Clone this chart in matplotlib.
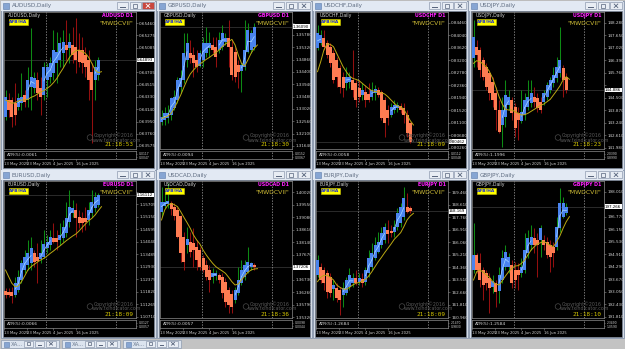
import matplotlib
matplotlib.use("Agg")
import matplotlib.pyplot as plt
from matplotlib.patches import Rectangle, Circle
from matplotlib.transforms import blended_transform_factory
import numpy as np

plt.rcParams['font.family'] = ['Liberation Sans Narrow', 'DejaVu Sans']

# ---------------- data (Heiken-Ashi bodies / wicks, yellow MA) ----------------
symbols = ["AUDUSD", "GBPUSD", "USDCHF", "USDJPY", "EURUSD", "USDCAD", "EURJPY", "GBPJPY"]
date_labels = ["13 May 2025", "23 May 2025", "4 Jun 2025", "16 Jun 2025"]
clock_texts = ["21:18:53", "21:18:30", "21:18:09", "21:18:23", "21:18:09", "21:18:36", "21:18:09", "21:18:10"]
atr_texts = ["ATR(5):0.0061", "ATR(5):0.0094", "ATR(5):0.0058", "ATR(5):1.1996",
             "ATR(5):0.0066", "ATR(5):0.0057", "ATR(5):1.2684", "ATR(5):1.2584"]
atr_hi = [0.0117, 0.0152, 0.0112, 2.0390, 0.0127, 0.0098, 2.1470, 2.3490]
atr_lo = [0.0047, 0.0067, 0.0048, 0.8990, 0.0057, 0.0044, 0.9830, 1.0590]

aud_o = [0.64025,0.64280,0.64280,0.64229,0.64178,0.64229,0.64357,0.64280,0.64485,0.64459,0.64587,0.64459,0.64357,0.64587,0.64638,0.64689,0.64842,0.64893,0.64995,0.65123,0.65072,0.65123,0.65098,0.65046,0.65046,0.64970,0.64893,0.64714,0.64587,0.64663]
aud_c = [0.64331,0.64127,0.64025,0.64050,0.64306,0.64331,0.64255,0.64587,0.64638,0.64612,0.64382,0.64331,0.64791,0.64791,0.64842,0.65046,0.65021,0.65149,0.65174,0.65046,0.65174,0.64970,0.64893,0.64868,0.64842,0.64791,0.64587,0.64434,0.64791,0.64893]
aud_h = [0.64434,0.64382,0.64331,0.64536,0.64382,0.64689,0.64434,0.64791,0.65379,0.64714,0.64714,0.64638,0.64868,0.64842,0.64944,0.65353,0.65328,0.65251,0.65353,0.65506,0.65302,0.65404,0.65532,0.65302,0.65251,0.65098,0.65046,0.64842,0.64893,0.64944]
aud_l = [0.63973,0.64025,0.63871,0.63897,0.64127,0.64127,0.64178,0.64178,0.64127,0.64382,0.64280,0.64050,0.64280,0.64331,0.64536,0.64587,0.64536,0.64791,0.64791,0.64893,0.64842,0.64842,0.64689,0.64791,0.64689,0.64638,0.64280,0.63616,0.64280,0.64587]
aud_ma = [0.64280,0.64255,0.64229,0.64240,0.64265,0.64280,0.64280,0.64290,0.64321,0.64341,0.64372,0.64403,0.64423,0.64459,0.64495,0.64546,0.64607,0.64689,0.64765,0.64852,0.64934,0.64995,0.65036,0.65046,0.65021,0.64995,0.64934,0.64842,0.64740,0.64699,0.64714]
aud_ticks = [0.65460,0.65275,0.65085,0.64895,0.64705,0.64515,0.64330,0.64140,0.63950,0.63760,0.63575]

gbp_o = [1.3255,1.3261,1.3267,1.3280,1.3304,1.3336,1.3385,1.3410,1.3485,1.3510,1.3503,1.3485,1.3463,1.3485,1.3510,1.3528,1.3541,1.3535,1.3522,1.3535,1.3553,1.3565,1.3535,1.3516,1.3466,1.3444,1.3460,1.3513,1.3522,1.3534]
gbp_c = [1.3273,1.3286,1.3286,1.3342,1.3348,1.3410,1.3416,1.3510,1.3547,1.3491,1.3472,1.3460,1.3510,1.3547,1.3547,1.3547,1.3522,1.3497,1.3559,1.3584,1.3565,1.3535,1.3429,1.3423,1.3441,1.3466,1.3522,1.3597,1.3584,1.3609]
gbp_h = [1.3298,1.3311,1.3317,1.3348,1.3373,1.3423,1.3447,1.3584,1.3584,1.3559,1.3534,1.3522,1.3522,1.3572,1.3609,1.3590,1.3572,1.3572,1.3590,1.3615,1.3584,1.3634,1.3559,1.3535,1.3485,1.3472,1.3634,1.3621,1.3597,1.3621]
gbp_l = [1.3242,1.3242,1.3249,1.3261,1.3298,1.3323,1.3360,1.3398,1.3460,1.3472,1.3423,1.3441,1.3460,1.3460,1.3497,1.3497,1.3510,1.3460,1.3510,1.3522,1.3541,1.3460,1.3410,1.3404,1.3379,1.3367,1.3447,1.3510,1.3510,1.3522]
gbp_ma = [1.32672,1.32709,1.32759,1.32858,1.33045,1.33293,1.33542,1.33828,1.34101,1.34325,1.34474,1.34599,1.34698,1.34785,1.34872,1.34947,1.35034,1.35121,1.35220,1.35345,1.35444,1.35531,1.35618,1.35407,1.35034,1.34723,1.34624,1.34847,1.35096,1.35282,1.35407]
gbp_ticks = [1.36240,1.35780,1.35320,1.34860,1.34400,1.33940,1.33480,1.33020,1.32560,1.32100,1.31640]

chf_o = [0.83598,0.83766,0.83934,0.83766,0.83654,0.83430,0.83206,0.82926,0.82646,0.82422,0.82478,0.82534,0.82422,0.82254,0.82030,0.82142,0.82064,0.81974,0.82086,0.82198,0.82142,0.81862,0.81526,0.81358,0.81526,0.81582,0.81660,0.81582,0.81358,0.81078]
chf_c = [0.84102,0.84046,0.83654,0.83374,0.83094,0.82534,0.82646,0.82310,0.82254,0.82646,0.82624,0.82198,0.81862,0.81974,0.82198,0.81862,0.81862,0.82198,0.82220,0.82030,0.81246,0.81078,0.81246,0.81638,0.81694,0.81694,0.81526,0.81358,0.80742,0.80462]
chf_h = [0.84382,0.84214,0.84214,0.83878,0.83766,0.83542,0.83318,0.83038,0.82814,0.82982,0.82814,0.83540,0.82534,0.82534,0.82422,0.82366,0.82422,0.82478,0.82366,0.82310,0.82198,0.81974,0.81694,0.81750,0.81862,0.81806,0.81750,0.81750,0.81526,0.81134]
chf_l = [0.83542,0.83710,0.83542,0.83262,0.82982,0.82422,0.82310,0.82086,0.81974,0.82198,0.82254,0.81974,0.81638,0.81806,0.81862,0.81638,0.81806,0.81862,0.81862,0.81974,0.81190,0.80630,0.81022,0.81302,0.81414,0.81470,0.81414,0.81078,0.80630,0.80406]
chf_ma = [0.82814,0.83150,0.83542,0.83744,0.83732,0.83654,0.83430,0.83206,0.82982,0.82814,0.82668,0.82590,0.82556,0.82512,0.82422,0.82332,0.82243,0.82176,0.82153,0.82131,0.82108,0.82064,0.81974,0.81862,0.81750,0.81660,0.81638,0.81546,0.81358,0.81168,0.81022]
chf_ticks = [0.84460,0.84040,0.83620,0.83200,0.82780,0.82360,0.81940,0.81520,0.81100,0.80680,0.80260]

jpy_o = [146.482,147.070,146.902,146.398,146.062,145.726,145.306,144.718,143.878,143.122,143.542,144.130,144.382,144.046,143.710,143.341,143.626,144.046,144.214,144.550,144.466,144.298,144.298,144.550,144.886,145.222,145.474,145.726,145.978,145.558]
jpy_c = [147.574,146.650,145.894,145.558,145.054,144.718,144.382,143.878,142.786,143.878,144.634,144.550,143.710,142.954,143.374,143.794,144.382,144.550,144.718,144.298,143.962,143.878,144.718,145.138,145.390,145.642,146.062,146.398,145.390,144.886]
jpy_h = [148.414,147.406,147.070,146.566,146.230,145.894,145.558,145.054,144.382,144.550,145.390,144.886,144.550,144.214,144.046,144.886,144.718,145.390,145.390,145.054,144.718,144.550,144.886,145.306,145.558,146.062,146.566,148.078,146.146,145.726]
jpy_l = [146.062,146.062,145.558,145.390,144.886,144.382,144.046,142.870,142.702,142.030,143.038,143.878,143.374,142.534,142.366,143.206,143.374,143.878,144.046,144.046,143.794,143.710,144.130,144.382,144.718,145.054,145.306,145.558,144.550,144.718]
jpy_ma = [146.230,146.365,146.314,146.197,146.062,145.810,145.474,145.020,144.550,144.181,143.912,143.878,143.878,143.794,143.710,143.626,143.643,143.710,143.811,143.912,144.012,144.113,144.181,144.298,144.416,144.634,144.852,145.088,145.390,145.558,145.424]
jpy_ticks = [148.280,147.650,147.020,146.390,145.760,145.130,144.500,143.870,143.240,142.610,141.980]

eur_o = [1.11864,1.11820,1.11820,1.11672,1.11894,1.12338,1.12782,1.13002,1.13108,1.13522,1.13374,1.13256,1.13374,1.13744,1.13892,1.14188,1.14188,1.14114,1.14188,1.14410,1.14928,1.15298,1.15446,1.15150,1.15076,1.15076,1.15002,1.15298,1.15520,1.15668]
eur_c = [1.11672,1.11672,1.11628,1.12190,1.12482,1.13078,1.13346,1.13522,1.13744,1.13152,1.13196,1.13522,1.13936,1.14040,1.14262,1.14040,1.14040,1.14336,1.14706,1.15076,1.15594,1.15520,1.15076,1.14854,1.14854,1.14928,1.15446,1.15816,1.16038,1.16112]
eur_h = [1.11968,1.11968,1.12042,1.12482,1.12782,1.13226,1.13670,1.14114,1.14262,1.13670,1.13966,1.14114,1.14558,1.14336,1.14558,1.14854,1.14558,1.14854,1.15002,1.15816,1.16334,1.15890,1.15742,1.15446,1.15372,1.15594,1.15816,1.16334,1.16260,1.16186]
eur_l = [1.11524,1.11598,1.11302,1.11598,1.11820,1.12190,1.12634,1.12782,1.12782,1.12930,1.12190,1.13078,1.13300,1.13522,1.13670,1.13966,1.13670,1.13892,1.14040,1.14262,1.14706,1.15150,1.14262,1.14632,1.14484,1.14558,1.14780,1.15150,1.15372,1.15564]
eur_ma = [1.12782,1.12482,1.12190,1.12042,1.12072,1.12264,1.12516,1.12782,1.12930,1.13034,1.13137,1.13226,1.13300,1.13404,1.13522,1.13626,1.13744,1.13848,1.13966,1.14084,1.14188,1.14292,1.14381,1.14514,1.14676,1.14824,1.14972,1.15076,1.15224,1.15416,1.15594]
eur_ticks = [1.16260,1.15705,1.15150,1.14595,1.14040,1.13485,1.12930,1.12375,1.11820,1.11265,1.10710]

cad_o = [1.39299,1.39512,1.39588,1.39638,1.39487,1.39362,1.39120,1.38359,1.38046,1.38171,1.38109,1.37983,1.37858,1.37545,1.37294,1.37106,1.36855,1.36880,1.36918,1.36855,1.36667,1.36354,1.36204,1.35978,1.36229,1.36605,1.36855,1.37043,1.37231,1.37294]
cad_c = [1.39675,1.39675,1.39688,1.39387,1.39120,1.38359,1.37733,1.37419,1.38259,1.37795,1.37858,1.37482,1.37231,1.37106,1.36855,1.36730,1.36981,1.36981,1.36730,1.36229,1.35916,1.35790,1.35727,1.36354,1.36730,1.37106,1.37294,1.37419,1.37357,1.37206]
cad_h = [1.40239,1.40177,1.40365,1.39713,1.39613,1.39487,1.39174,1.38547,1.38735,1.38547,1.38673,1.38234,1.37983,1.37670,1.37482,1.37294,1.37169,1.37106,1.36981,1.36981,1.36793,1.36479,1.36354,1.36479,1.37231,1.37482,1.37482,1.37983,1.37419,1.37357]
cad_l = [1.39120,1.39425,1.39425,1.39174,1.38986,1.38297,1.37419,1.37106,1.37733,1.37607,1.37231,1.37106,1.37106,1.37043,1.36730,1.36291,1.36605,1.36730,1.36605,1.36041,1.35727,1.35477,1.35477,1.35853,1.36166,1.36541,1.36730,1.36981,1.37106,1.37106]
cad_ma = [1.38986,1.39362,1.39550,1.39613,1.39562,1.39487,1.39299,1.39086,1.38886,1.38673,1.38422,1.38234,1.38084,1.37858,1.37670,1.37507,1.37357,1.37231,1.37144,1.37069,1.36981,1.36830,1.36667,1.36541,1.36579,1.36730,1.36880,1.37018,1.37106,1.37144,1.37156]
cad_ticks = [1.40020,1.39550,1.39080,1.38610,1.38140,1.37670,1.37200,1.36730,1.36260,1.35790,1.35320]

ej_o = [163.828,164.396,164.169,163.942,163.714,162.851,162.919,162.805,162.464,162.578,163.032,163.260,163.601,163.373,163.578,163.373,163.942,164.396,164.964,165.419,165.873,166.214,166.896,166.851,166.782,167.123,167.350,167.805,168.487,168.373]
ej_c = [164.851,163.487,163.260,162.692,162.578,163.146,162.237,162.123,162.919,163.487,163.828,163.601,163.260,163.601,163.305,164.169,164.964,165.305,165.873,166.101,166.669,167.123,166.623,166.669,167.123,168.032,168.487,169.055,168.146,168.169]
ej_h = [165.191,164.623,164.396,164.169,163.942,163.487,163.260,163.032,163.373,163.714,164.282,163.942,164.169,163.942,163.942,164.396,165.532,165.987,166.442,166.782,167.123,167.350,167.578,167.237,167.578,168.373,168.714,169.851,169.396,168.533]
ej_l = [163.714,163.260,162.805,162.237,162.351,162.123,162.010,161.101,161.669,162.464,162.805,163.032,163.146,163.146,163.032,163.146,163.714,164.169,164.851,165.305,165.646,165.987,165.987,166.442,166.442,166.896,167.123,167.578,168.032,168.032]
ej_ma = [163.373,163.669,163.805,163.805,163.669,163.487,163.146,162.987,162.873,162.851,162.987,163.146,163.260,163.328,163.396,163.533,163.760,164.055,164.396,164.737,165.032,165.351,165.646,165.942,166.260,166.487,166.714,167.123,167.578,167.851,168.033]
ej_ticks = [169.460,168.610,167.760,166.910,166.060,165.210,164.360,163.510,162.660,161.810,160.960]

gj_o = [194.125,194.869,194.456,194.125,193.960,193.712,193.298,193.463,193.100,193.629,194.290,194.290,194.373,194.125,194.125,193.960,194.125,194.952,195.365,195.696,195.613,195.613,195.613,195.530,195.365,195.282,195.282,196.192,196.770,196.936]
gj_c = [194.869,194.125,193.629,193.381,193.463,193.216,193.596,193.050,193.877,194.704,195.034,194.753,193.463,193.629,193.877,194.290,195.117,195.696,195.778,195.365,195.365,196.192,195.365,194.869,194.787,194.952,196.274,197.432,197.432,197.266]
gj_h = [196.440,194.952,194.952,194.290,194.125,193.960,193.877,193.629,194.290,195.117,195.365,194.952,194.621,194.538,194.456,194.704,195.944,196.109,196.357,196.192,195.944,196.357,195.861,195.778,195.613,195.530,196.770,198.176,197.762,197.432]
gj_l = [193.960,193.960,193.298,192.637,193.133,191.976,192.968,192.307,192.472,193.463,194.125,193.960,193.216,193.216,193.133,193.794,193.960,194.704,195.117,194.952,193.794,194.787,195.117,194.704,194.042,194.290,195.117,196.026,196.688,196.853]
gj_ma = [193.629,194.042,194.125,194.026,193.877,193.761,193.546,193.431,193.381,193.596,193.828,194.042,194.208,194.323,194.340,194.456,194.621,194.869,195.117,195.282,195.415,195.481,195.530,195.448,195.349,195.282,195.530,195.812,196.192,196.522,196.770]
gj_ticks = [198.010,197.390,196.770,196.150,195.530,194.910,194.290,193.670,193.050,192.430,191.810]

# visible price range of each main panel
y_ranges = [(0.63529, 0.65637), (1.31528, 1.36656), (0.80216, 0.84836), (141.913, 148.843),
            (1.10651, 1.16756), (1.35301, 1.40471), (160.896, 170.271), (191.744, 198.564)]

series = [
    (aud_o, aud_c, aud_h, aud_l, aud_ma, aud_ticks, 5),
    (gbp_o, gbp_c, gbp_h, gbp_l, gbp_ma, gbp_ticks, 5),
    (chf_o, chf_c, chf_h, chf_l, chf_ma, chf_ticks, 5),
    (jpy_o, jpy_c, jpy_h, jpy_l, jpy_ma, jpy_ticks, 3),
    (eur_o, eur_c, eur_h, eur_l, eur_ma, eur_ticks, 5),
    (cad_o, cad_c, cad_h, cad_l, cad_ma, cad_ticks, 5),
    (ej_o, ej_c, ej_h, ej_l, ej_ma, ej_ticks, 3),
    (gj_o, gj_c, gj_h, gj_l, gj_ma, gj_ticks, 3),
]

# ---------------- layout / style ----------------
W, H = 625, 349
fig = plt.figure(figsize=(W / 100, H / 100), dpi=100)
fig.patch.set_facecolor('#bcbcbc')

def px_axes(x, y, w, h, z=1):
    return fig.add_axes([x / W, 1 - (y + h) / H, w / W, h / H], zorder=z)

bg = px_axes(0, 0, W, H, z=0)
bg.set_xlim(0, W); bg.set_ylim(H, 0); bg.axis('off')
top = px_axes(0, 0, W, H, z=5)
top.set_xlim(0, W); top.set_ylim(H, 0); top.axis('off')

BULL = '#4a84ee'
BEAR = '#ff7c52'
WICK_UP = '#0d8a14'
WICK_DN = '#930f0f'
MA_COL = '#bba812'
FRAME = '#8c8c8c'
TXT = '#d2d2d2'
XLIM = (-0.47, 40.8)
date_pos = [-0.4, 6.7, 14.8, 22.0]
separators = [12.66, 34.53]
TITLE_FONT = 'DejaVu Sans'

def button(ax, x, y, w, h, kind, red=False):
    ax.add_patch(Rectangle((x, y), w, h, fc='#c9473e' if red else '#e8edf4',
                           ec='#8f9bb0', lw=0.5))
    gc = 'white' if red else '#55627a'
    if kind == 'min':
        ax.plot([x + w * 0.3, x + w * 0.7], [y + h * 0.7, y + h * 0.7], color=gc, lw=0.7)
    elif kind == 'max':
        ax.add_patch(Rectangle((x + w * 0.3, y + h * 0.25), w * 0.4, h * 0.5, fc='none', ec=gc, lw=0.5))
    else:
        ax.plot([x + w * 0.35, x + w * 0.65], [y + h * 0.25, y + h * 0.75], color=gc, lw=0.6)
        ax.plot([x + w * 0.35, x + w * 0.65], [y + h * 0.75, y + h * 0.25], color=gc, lw=0.6)

# bottom strip with minimized windows
bg.add_patch(Rectangle((0, 338), W, 11, fc='#c3c3c3', ec='none'))
for j in range(3):
    x0 = 1 + 61 * j
    bg.add_patch(Rectangle((x0, 339.5), 58, 8.5, fc='#dce4ef', ec='#8e9bb0', lw=0.5))
    bg.add_patch(Rectangle((x0 + 2.5, 341.5), 5, 5, fc='#88a6d2', ec='#5f7fae', lw=0.4))
    top.text(x0 + 10, 344, "XA...", fontsize=3.8, color='#6b7a90', va='center', family=TITLE_FONT)
    button(bg, x0 + 23, 341, 9, 5.5, 'max')
    button(bg, x0 + 34, 341, 9, 5.5, 'min')
    button(bg, x0 + 45, 341, 10, 5.5, 'close')

for k, name in enumerate(symbols):
    col, row = k % 4, k // 4
    wx, wy = 156 * col, 169 * row
    o, c, h, l, ma, ticks, dec = series[k]
    o, c, h, l, ma = map(np.asarray, (o, c, h, l, ma))
    fmt = '{:.%df}' % dec
    # ----- window chrome -----
    wh = 170 if row == 0 else 169
    bg.add_patch(Rectangle((wx + 0.5, wy + 0.5), 155, wh - 1, fc='#d3dbe7', ec='#8796ad', lw=0.6))
    bg.add_patch(Rectangle((wx + 1, wy + 1), 154, 9.5, fc='#e2e9f3', ec='none'))
    bg.add_patch(Rectangle((wx + 3, wy + 2.5), 6, 6, fc='#86a5d3', ec='#5c7cac', lw=0.4))
    top.text(wx + 11.5, wy + 6, name + ",Daily", fontsize=4.1, color='#5d6b80', va='center',
             family=TITLE_FONT)
    button(bg, wx + 117, wy + 2.3, 11, 7, 'min')
    button(bg, wx + 129.5, wy + 2.3, 11, 7, 'max')
    button(bg, wx + 142, wy + 2.3, 12, 7, 'close', red=(k == 0))
    bg.add_patch(Rectangle((wx + 3, wy + 11), 151, 156.5, fc='black', ec='#7d8799', lw=0.5))

    # ----- main price panel -----
    ax = px_axes(wx + 4, wy + 11.5, 132, 137.5, z=1)
    ax.set_facecolor('black')
    for s in ax.spines.values():
        s.set_color(FRAME); s.set_linewidth(0.5)
    x = np.arange(len(o))
    up = c >= o
    ax.vlines(x, l, h, colors=np.where(up, WICK_UP, WICK_DN), lw=0.75, zorder=2)
    ax.bar(x, np.abs(c - o), bottom=np.minimum(o, c), width=0.92,
           color=np.where(up, BULL, BEAR), lw=0, zorder=3)
    mid = (o + c) / 2
    for i in range(len(o) - 1):
        if up[i] and up[i + 1]:
            ax.plot([i, i + 1], [mid[i], mid[i + 1]], color='#a6d8ff', lw=0.5, zorder=4)
    ax.plot(np.arange(len(ma)), ma, color=MA_COL, lw=0.7, zorder=4)
    ax.axhline(c[-1], color='#4a4a4a', lw=0.4, zorder=1)
    for sx in separators:
        ax.axvline(sx, color='#a8a8a8', lw=0.5, ls=(0, (2, 2)), zorder=1)
    ax.set_xlim(*XLIM)
    ax.set_ylim(*y_ranges[k])
    ax.set_xticks([])
    ax.yaxis.tick_right()
    ax.set_yticks(ticks)
    step = abs(ticks[0] - ticks[1])
    ax.set_yticklabels(['' if abs(t - c[-1]) < 0.45 * step else fmt.format(t) for t in ticks])
    ax.tick_params(axis='y', colors=FRAME, labelcolor=TXT, labelsize=3.0,
                   length=1.5, width=0.4, pad=0.8)
    tr = blended_transform_factory(ax.transAxes, ax.transData)
    ax.text(1.008, c[-1], fmt.format(c[-1]), transform=tr, fontsize=2.9, color='black',
            va='center', ha='left', clip_on=False, zorder=10,
            bbox=dict(fc='white', ec='none', pad=0.3))

    # ----- ATR sub panel -----
    axa = px_axes(wx + 4, wy + 151, 132, 7.5, z=1)
    axa.set_facecolor('black')
    for s in axa.spines.values():
        s.set_color(FRAME); s.set_linewidth(0.5)
    for sx in separators:
        axa.axvline(sx, color='#a8a8a8', lw=0.5, ls=(0, (2, 2)))
    axa.set_xlim(*XLIM)
    axa.set_ylim(atr_lo[k] * 0.6, atr_hi[k] * 1.4)
    axa.yaxis.tick_right()
    axa.set_yticks([atr_hi[k], atr_lo[k]])
    axa.set_yticklabels(['{:.4f}'.format(atr_hi[k]), '{:.4f}'.format(atr_lo[k])])
    axa.tick_params(axis='y', colors=FRAME, labelcolor=TXT, labelsize=2.2,
                    length=1.0, width=0.4, pad=0.8)
    axa.set_xticks(date_pos)
    axa.set_xticklabels(date_labels, ha='left')
    axa.tick_params(axis='x', colors=FRAME, labelcolor=TXT, labelsize=2.7,
                    length=1.5, width=0.4, pad=0.8)
    axa.text(0.02, 0.5, atr_texts[k], transform=axa.transAxes, fontsize=3.2,
             color=TXT, va='center')

    # ----- on-chart texts -----
    top.text(wx + 7.5, wy + 15.5, name + ",Daily", fontsize=3.3, color=TXT, va='center')
    top.add_patch(Rectangle((wx + 9, wy + 18.5), 19, 6.5, fc='#ffff00', ec='#c9c200', lw=0.4))
    top.text(wx + 18.5, wy + 21.8, "AFB/HA", fontsize=3.2, color='#1a28d8',
             weight='bold', ha='center', va='center')
    top.text(wx + 133.5, wy + 15.5, name + " D1", fontsize=3.4, color='#ff20ff',
             weight='bold', ha='right', va='center')
    top.text(wx + 133.5, wy + 23.3, '"MWDCVII"', fontsize=4.4, color='#cdbb35',
             ha='right', va='center')
    top.add_patch(Circle((wx + 90, wy + 137.5), 2.8, fc='none', ec='#4a4a4a', lw=0.5))
    top.text(wx + 94, wy + 135.5, "Copyright©2016", fontsize=3.4, color='#5a5a5a', va='center')
    top.text(wx + 92, wy + 140, "www.fxindicator.com", fontsize=3.4, color='#5a5a5a', va='center')
    top.text(wx + 133.5, wy + 145, clock_texts[k], fontsize=4.3, color='#d6c700',
             ha='right', va='center', family='DejaVu Sans Mono')

fig.savefig("out.png", dpi=100, facecolor=fig.get_facecolor())
